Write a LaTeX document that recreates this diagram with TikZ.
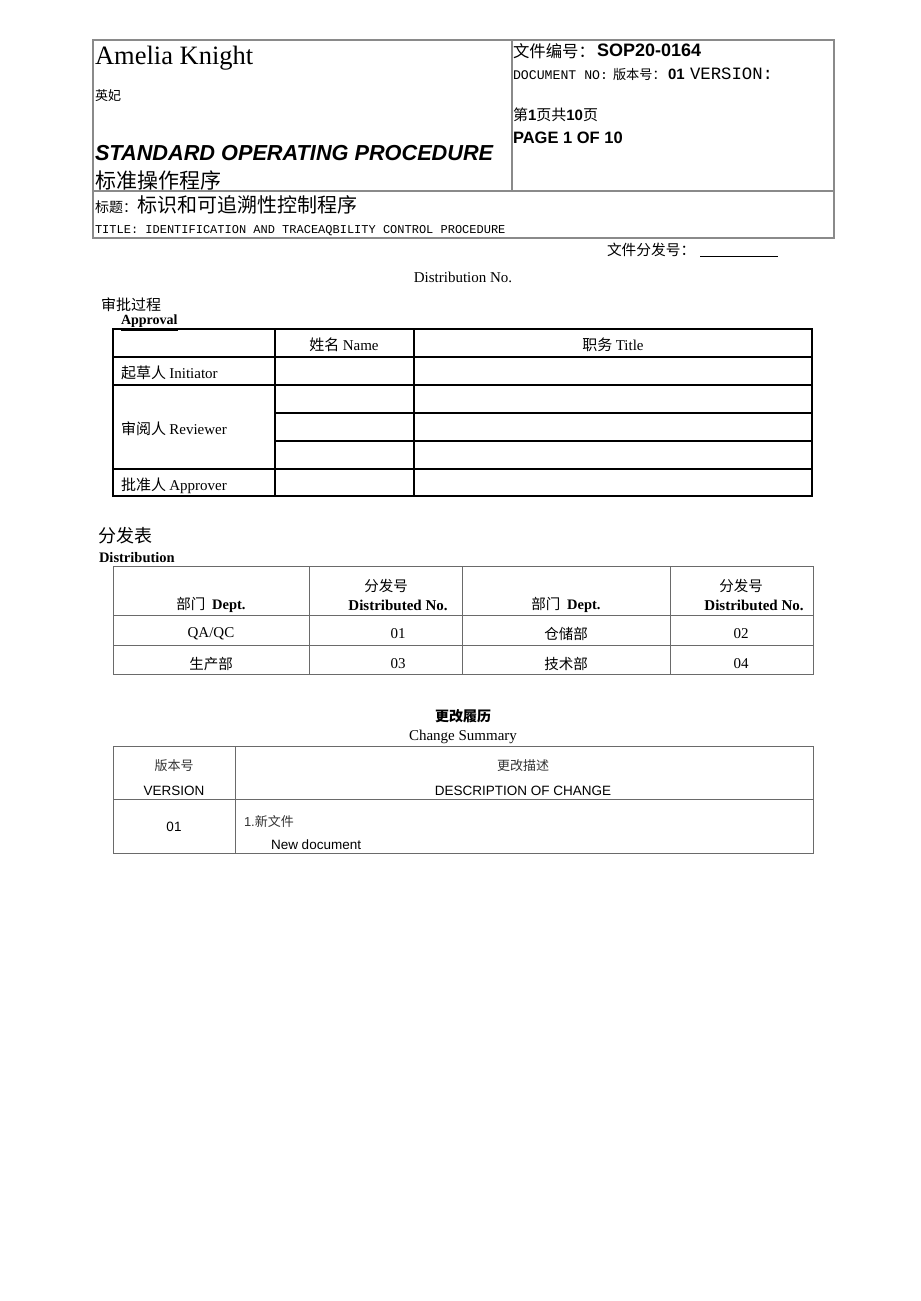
\documentclass[tikz,border=0pt]{standalone}
\usepackage{fontspec}
\setmainfont{Liberation Serif}
\setsansfont{Liberation Sans}
\newfontfamily\cjk{Noto Sans CJK SC}
\newfontfamily\lmono{Liberation Mono}
\newcommand\fsz[1]{\fontsize{\fpeval{#1*0.75}}{\fpeval{#1*0.9}}\selectfont}
\definecolor{hdrline}{HTML}{8A8A8A}
\definecolor{tabline}{HTML}{6A6A6A}
\definecolor{softtext}{HTML}{333333}
\tikzset{
  t/.style={inner sep=0pt, outer sep=0pt},
  hdr/.style={draw=hdrline, line width=0.8pt},
  apr/.style={draw=black, line width=1.1pt},
  grid/.style={draw=tabline, line width=0.7pt},
}
\begin{document}
\begin{tikzpicture}[x=0.75pt,y=-0.75pt]
\path[use as bounding box] (0,0) rectangle (920,1301);
% ---------- header box ----------
\draw[hdr] (93,40) rectangle (834,238);
\draw[hdr] (512,40) -- (512,191);
\draw[hdr] (93,191) -- (834,191);
\node[t,anchor=base west] (author) at (95,65) {\fsz{26.5}Amelia Knight};
\node[t,anchor=west] (yingfei) at (95,95.5) {\cjk\fsz{13}英妃};
\node[t,anchor=base west] (sop) at (95,161) {\sffamily\bfseries\itshape\fsz{21.7}STANDARD OPERATING PROCEDURE};
\node[t,anchor=west] (sopcn) at (95,181) {\cjk\fsz{21}标准操作程序};
\node[t,anchor=west] (titlecn) at (95,205) {\cjk{\fsz{14}标题：}\fsz{20}标识和可追溯性控制程序};
\node[t,anchor=base west] (titleen) at (95,234) {\lmono\fsz{12}TITLE: IDENTIFICATION AND TRACEAQBILITY CONTROL PROCEDURE};
\node[t,anchor=west] (docno) at (513,51) {\cjk\fsz{16.4}文件编号：};
\node[t,anchor=base west] (docnum) at (597,57) {\sffamily\bfseries\fsz{18}SOP20-0164};
\node[t,anchor=base west] (docen) at (513,80) {\lmono\fsz{13.2}DOCUMENT NO:};
\node[t,anchor=west] (vercn) at (613,75) {\cjk\fsz{13.2}版本号：};
\node[t,anchor=base west] (vernum) at (668,80) {\sffamily\bfseries\fsz{15}01};
\node[t,anchor=base west] (veren) at (690,80) {\lmono\fsz{17.3}VERSION:};
\node[t,anchor=west] (pagecn) at (513,115) {\cjk\fsz{15}第{\sffamily\bfseries 1}页共{\sffamily\bfseries 10}页};
\node[t,anchor=base west] (pageen) at (513,144) {\sffamily\bfseries\fsz{16.5}PAGE 1 OF 10};
% ---------- distribution number ----------
\node[t,anchor=west] (distcn) at (607,250) {\cjk\fsz{14.7}文件分发号：};
\coordinate (ulA) at (700,256);
\coordinate (ulB) at (778,256);
\draw[line width=0.7pt] (ulA) -- (ulB);
\node[t] (distno) at (463,277) {\fsz{15}Distribution No.};
% ---------- approval ----------
\node[t,anchor=west] (apprcn) at (101,305) {\cjk\fsz{15}审批过程};
\node[t,anchor=base west] (appren) at (121,325) {\bfseries\fsz{14}\underline{Approval}};
\draw[apr] (113,329) rectangle (812,496);
\draw[apr] (275,329) -- (275,496);
\draw[apr] (414,329) -- (414,496);
\draw[apr] (113,357) -- (812,357);
\draw[apr] (113,385) -- (812,385);
\draw[apr] (275,413) -- (812,413);
\draw[apr] (275,441) -- (812,441);
\draw[apr] (113,469) -- (812,469);
\node[t] (hname) at (344,345) {{\cjk\fsz{15}姓名} \fsz{15}Name};
\node[t] (htitle) at (613,345) {{\cjk\fsz{15}职务} \fsz{15}Title};
\node[t,anchor=west] (rinit) at (121,373) {{\cjk\fsz{15}起草人} \fsz{15}Initiator};
\node[t,anchor=west] (rrev) at (121,429) {{\cjk\fsz{15}审阅人} \fsz{15}Reviewer};
\node[t,anchor=west] (rappr) at (121,486) {{\cjk\fsz{15}批准人} \fsz{15}Approver};
% ---------- distribution table ----------
\node[t,anchor=west] (distab) at (98,536) {\cjk\fsz{18}分发表};
\node[t,anchor=base west] (distaben) at (99,562) {\bfseries\fsz{14.5}Distribution};
\draw[grid] (113,566) rectangle (813,674);
\draw[grid] (309,566) -- (309,674);
\draw[grid] (462,566) -- (462,674);
\draw[grid] (670,566) -- (670,674);
\draw[grid] (113,615) -- (813,615);
\draw[grid] (113,645) -- (813,645);
\node[t] (d1h) at (211,605) {{\cjk\fsz{14.5}部门}\ \ \bfseries\fsz{14.5}Dept.};
\node[t] (d2ha) at (386,586) {\cjk\fsz{14.5}分发号};
\node[t] (d2hb) at (398,605) {\bfseries\fsz{15}Distributed No.};
\node[t] (d3h) at (566,605) {{\cjk\fsz{14.5}部门}\ \ \bfseries\fsz{14.5}Dept.};
\node[t] (d4ha) at (741,586) {\cjk\fsz{14.5}分发号};
\node[t] (d4hb) at (754,605) {\bfseries\fsz{15}Distributed No.};
\node[t] (d11) at (211,634) {\fsz{15}QA/QC};
\node[t] (d12) at (398,634) {\fsz{15}01};
\node[t] (d13) at (566,634) {\cjk\fsz{14.5}仓储部};
\node[t] (d14) at (741,634) {\fsz{15}02};
\node[t] (d21) at (211,664) {\cjk\fsz{14.5}生产部};
\node[t] (d22) at (398,664) {\fsz{15}03};
\node[t] (d23) at (566,664) {\cjk\fsz{14.5}技术部};
\node[t] (d24) at (741,664) {\fsz{15}04};
% ---------- change summary ----------
\node[t] (chcn) at (463,716) {\cjk\bfseries\fsz{14}更改履历};
\node[t] (chen) at (463,737) {\fsz{15}Change Summary};
\draw[grid] (113,746) rectangle (813,853);
\draw[grid] (235,746) -- (235,853);
\draw[grid] (113,799) -- (813,799);
\node[t,text=softtext] (c1a) at (174,766) {\cjk\fsz{13}版本号};
\node[t] (c1b) at (174,791) {\sffamily\fsz{13.5}VERSION};
\node[t,text=softtext] (c2a) at (523,766) {\cjk\fsz{13}更改描述};
\node[t] (c2b) at (523,791) {\sffamily\fsz{13.5}DESCRIPTION OF CHANGE};
\node[t] (c3a) at (174,827) {\sffamily\fsz{13.5}01};
\node[t,anchor=west,text=softtext] (c3b) at (244,822) {\sffamily\fsz{13}1.{\cjk 新文件}};
\node[t,anchor=west] (c3c) at (271,845) {\sffamily\fsz{13.5}New document};
\end{tikzpicture}
\end{document}
